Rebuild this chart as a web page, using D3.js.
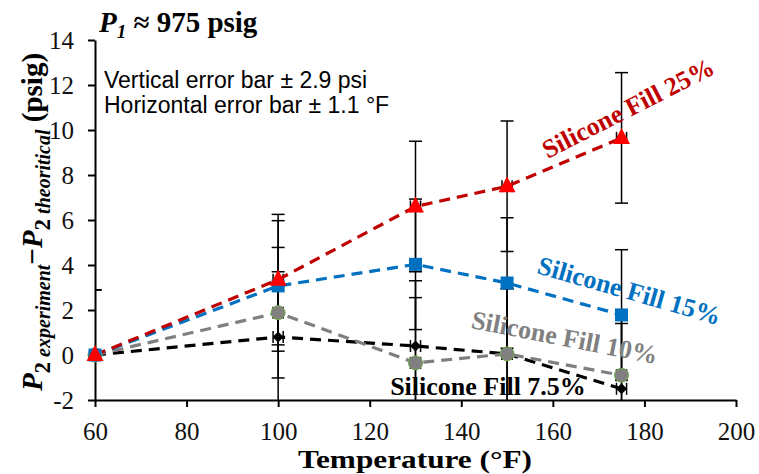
<!DOCTYPE html>
<html>
<head>
<meta charset="utf-8">
<script src="https://cdn.jsdelivr.net/npm/d3@7"></script>
<style>
  body { margin: 0; background: #fff; }
  .axis path, .axis line { stroke: #000; stroke-width: 2px; }
</style>
</head>
<body>
<div class="chart"></div>
<script>
// Chart data
var temps = [60, 100, 130, 150, 175];
var fill25 = [0, 3.35, 6.6, 7.5, 9.65];
var fill15 = [0, 3.07, 4.03, 3.2, 1.78];
var fill10 = [0, 1.88, -0.35, 0.05, -0.9];
var fill75 = [0, 0.8, 0.4, 0.05, -1.5];
var xTicks = [60, 80, 100, 120, 140, 160, 180, 200];
var yTicks = [-2, 0, 2, 4, 6, 8, 10, 12, 14];
var yErr = 2.9;
var xErr = 1.1;

var serif = "Liberation Serif";
var sans = "Liberation Sans";

var svgWidth = 759;
var svgHeight = 474;
var margin = { top: 40, right: 23, bottom: 74, left: 95 };
var width = svgWidth - margin.left - margin.right;
var height = svgHeight - margin.top - margin.bottom;

var svg = d3.select(".chart").append("svg")
  .attr("width", svgWidth)
  .attr("height", svgHeight);

var chart = svg.append("g")
  .attr("transform", "translate(" + margin.left + "," + margin.top + ")");

var x = d3.scaleLinear().domain([60, 200]).range([0, width]);
var y = d3.scaleLinear().domain([-2, 14]).range([height, 0]);

// Excel clips error bars to the plot area
chart.append("clipPath").attr("id", "plotclip")
  .append("rect").attr("x", 0).attr("y", 0).attr("width", width + 10).attr("height", height);

var series = [
  { vals: fill75, line: "#000000", type: "diamond" },
  { vals: fill10, line: "#7f7f7f", type: "circle" },
  { vals: fill15, line: "#0070c0", type: "square" },
  { vals: fill25, line: "#c00000", type: "triangle" }
];

// error bars
var errG = chart.append("g").attr("clip-path", "url(#plotclip)");
series.forEach(function(s) {
  temps.forEach(function(t, i) {
    var cx = x(t), v = s.vals[i];
    var top = y(v + yErr), bot = y(v - yErr);
    var g = errG.append("g").attr("stroke", "#000").attr("stroke-width", 1.5);
    g.append("line").attr("x1", cx).attr("x2", cx).attr("y1", top).attr("y2", bot);
    g.append("line").attr("x1", cx - 6.5).attr("x2", cx + 6.5).attr("y1", top).attr("y2", top);
    g.append("line").attr("x1", cx - 6.5).attr("x2", cx + 6.5).attr("y1", bot).attr("y2", bot);
    var l = x(t - xErr), r = x(t + xErr), cy = y(v);
    g.append("line").attr("x1", l).attr("x2", r).attr("y1", cy).attr("y2", cy);
    g.append("line").attr("x1", l).attr("x2", l).attr("y1", cy - 6).attr("y2", cy + 6);
    g.append("line").attr("x1", r).attr("x2", r).attr("y1", cy - 6).attr("y2", cy + 6);
  });
});

// axes
var xAxisG = chart.append("g").attr("class", "axis")
  .attr("transform", "translate(0," + height + ")")
  .call(d3.axisBottom(x).tickValues(xTicks).tickSize(7).tickSizeOuter(0).tickPadding(15).tickFormat(d3.format("d")));

var yAxisG = chart.append("g").attr("class", "axis")
  .call(d3.axisLeft(y).tickValues(yTicks).tickSize(7).tickSizeOuter(0).tickPadding(14)
    .tickFormat(function(d) { return d < 0 ? "-" + Math.abs(d) : d; }));

[xAxisG, yAxisG].forEach(function(a) {
  a.attr("font-family", serif).attr("font-size", 25);
  a.selectAll("text")
    .style("font-family", serif)
    .style("font-size", "25px")
    .attr("fill", "#111");
});

// dashed lines
var drawLine = d3.line()
  .x(function(d, i) { return x(temps[i]); })
  .y(function(d) { return y(d); });

series.forEach(function(s) {
  chart.append("path")
    .attr("d", drawLine(s.vals))
    .attr("fill", "none")
    .attr("stroke", s.line)
    .attr("stroke-width", 3.2)
    .attr("stroke-dasharray", "11,7");
});

// markers
series.forEach(function(s) {
  temps.forEach(function(t, i) {
    var cx = x(t), cy = y(s.vals[i]);
    if (s.type === "triangle") {
      chart.append("path")
        .attr("d", "M" + cx + "," + (cy - 10) + "L" + (cx + 8.5) + "," + (cy + 6) + "L" + (cx - 8.5) + "," + (cy + 6) + "Z")
        .attr("fill", "#ff0000");
    } else if (s.type === "square") {
      chart.append("rect").attr("x", cx - 6.5).attr("y", cy - 6.5).attr("width", 13).attr("height", 13)
        .attr("fill", "#0070c0");
    } else if (s.type === "circle") {
      chart.append("circle").attr("cx", cx).attr("cy", cy).attr("r", 7)
        .attr("fill", "#808080").attr("stroke", "#70ad47").attr("stroke-width", 1);
    } else {
      chart.append("path")
        .attr("d", "M" + cx + "," + (cy - 5.5) + "L" + (cx + 5.5) + "," + cy + "L" + cx + "," + (cy + 5.5) + "L" + (cx - 5.5) + "," + cy + "Z")
        .attr("fill", "#000");
    }
  });
});

// series labels
var labels = [
  { t: "Silicone Fill 25%", c: "#c00000", x: 632, y: 116, r: -27 },
  { t: "Silicone Fill 15%", c: "#0070c0", x: 627, y: 299, r: 16 },
  { t: "Silicone Fill 10%", c: "#808080", x: 563, y: 346, r: 11 },
  { t: "Silicone Fill 7.5%", c: "#000000", x: 488, y: 395, r: 0 }
];
labels.forEach(function(d) {
  svg.append("text")
    .attr("transform", "translate(" + d.x + "," + d.y + ") rotate(" + d.r + ")")
    .attr("text-anchor", "middle")
    .style("font-family", serif)
    .style("font-size", "26px")
    .style("font-weight", "bold")
    .attr("fill", d.c)
    .text(d.t);
});

// title
var title = svg.append("text").attr("x", 99).attr("y", 32)
  .style("font-family", serif).style("font-size", "29px").style("font-weight", "bold");
title.append("tspan").style("font-style", "italic").text("P");
title.append("tspan").style("font-style", "italic").style("font-size", "19px").attr("dy", 6).text("1");
title.append("tspan").attr("dy", -6).text(" \u2248 975 psig");

// note box
svg.append("text").attr("x", 104).attr("y", 88)
  .style("font-family", sans).style("font-size", "23px").text("Vertical error bar \u00b1 2.9 psi");
svg.append("text").attr("x", 104).attr("y", 113)
  .style("font-family", sans).style("font-size", "23px").text("Horizontal error bar \u00b1 1.1 \u00b0F");

// axis titles
svg.append("text")
  .attr("x", 298).attr("y", 468)
  .attr("textLength", 234)
  .attr("lengthAdjust", "spacingAndGlyphs")
  .style("font-family", serif).style("font-size", "25px").style("font-weight", "bold")
  .text("Temperature (\u00b0F)");

var yl = svg.append("text")
  .attr("transform", "translate(42,222) rotate(-90)")
  .attr("text-anchor", "middle")
  .style("font-family", serif).style("font-size", "29px").style("font-weight", "bold");
yl.append("tspan").style("font-style", "italic").text("P");
yl.append("tspan").style("font-size", "23px").attr("dy", 8).text("2");
yl.append("tspan").style("font-size", "20px").style("font-style", "italic").text(" experiment");
yl.append("tspan").attr("dy", -8).text("\u2212");
yl.append("tspan").style("font-style", "italic").text("P");
yl.append("tspan").style("font-size", "23px").attr("dy", 8).text("2");
yl.append("tspan").style("font-size", "20px").style("font-style", "italic").text(" theoritical");
yl.append("tspan").attr("dy", -8).text(" (psig)");
</script>
</body>
</html>
